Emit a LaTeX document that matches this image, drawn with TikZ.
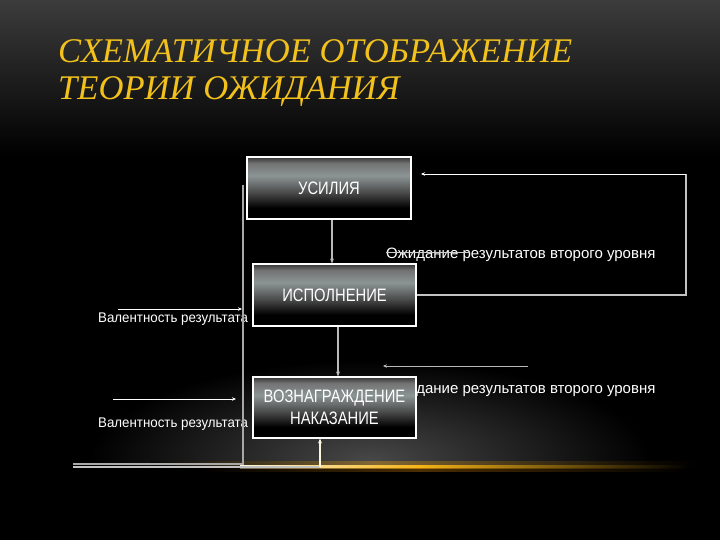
\documentclass[tikz,border=0pt]{standalone}
\usepackage{fontspec}
\setmainfont{Liberation Sans}
\newfontfamily\titlefont[FakeStretch=1.0]{Liberation Serif}
\newfontfamily\boxfont[FakeStretch=0.82]{Liberation Sans}
\newfontfamily\labfont[FakeStretch=0.95]{Liberation Sans}
\usetikzlibrary{arrows.meta}
\definecolor{gold}{HTML}{F2C11C}
\definecolor{bgtop}{HTML}{3C3C3C}
\definecolor{band}{HTML}{8C9494}
\definecolor{lgray}{HTML}{A8A8A8}
\pgfdeclareverticalshading{boxshade}{100bp}{color(0bp)=(black); color(25bp)=(black); color(34bp)=(black); color(46bp)=(black!72); color(60bp)=(band); color(70bp)=(black!55); color(75bp)=(black!80); color(100bp)=(black!80)}
\tikzset{
  blk/.style={draw=white, line width=1.1pt, shading=boxshade, minimum width=163pt, minimum height=62pt, inner sep=0pt, text=white, font=\boxfont\fontsize{18}{22}\selectfont, align=center},
  lab/.style={text=white, font=\labfont\fontsize{14}{16}\selectfont, inner sep=0pt},
  labw/.style={text=white, font=\fontsize{15}{17}\selectfont, inner sep=0pt},
  arr/.style={draw=white, line width=0.8pt, -{Stealth[length=4pt,width=3.5pt]}},
  garr/.style={draw=lgray!80!white, line width=1.1pt, -{Stealth[length=5pt,width=4pt]}},
  gline/.style={draw=lgray, line width=1.6pt},
  ttl/.style={anchor=base west, inner sep=0pt, text=gold, font=\titlefont\itshape\fontsize{34.6}{38}\selectfont}
}
\begin{document}
\begin{tikzpicture}[x=1pt,y=-1pt]
% background
\fill[black] (0,0) rectangle (720,540);
\shade[top color=bgtop, bottom color=black] (0,0) rectangle (720,155);
\begin{scope}
\clip (0,150) rectangle (720,467);
\shade[inner color=black!72, outer color=black] (370,460) ellipse [x radius=280, y radius=100];
\end{scope}
\shade[left color=black, right color=gold!60!orange, opacity=0.35] (150,461) rectangle (380,467);
\shade[left color=gold!60!orange, right color=black, opacity=0.35] (380,461) rectangle (700,467);
\shade[left color=white!85!gold, right color=gold!80!orange] (240,465.8) rectangle (420,468);
\shade[left color=gold!80!orange, right color=black] (420,465.8) rectangle (690,468);
\shade[left color=black, right color=gold!40!orange!50!black, opacity=0.6] (200,468) rectangle (420,471);
\shade[left color=gold!40!orange!50!black, right color=black, opacity=0.6] (420,468) rectangle (690,471);

% title
\node[ttl] (title1) at (58,63) {СХЕМАТИЧНОЕ ОТОБРАЖЕНИЕ};
\node[ttl] (title2) at (58,100) {ТЕОРИИ ОЖИДАНИЯ};

% labels behind boxes
\node[labw, anchor=west] (t1) at (386,255) {Ожидание результатов второго уровня};
\node[labw, anchor=west] (t2) at (386,390) {Ожидание результатов второго уровня};
\node[lab, anchor=west] (val1) at (98,319) {Валентность результата};
\node[lab, anchor=west] (val2) at (98,424) {Валентность результата};

% boxes
\node[blk, minimum width=164pt] (u) at (329,188) {УСИЛИЯ};
\node[blk] (i) at (334.5,295) {ИСПОЛНЕНИЕ};
\node[blk, minimum height=61pt] (v) at (334.5,407.5) {ВОЗНАГРАЖДЕНИЕ\\НАКАЗАНИЕ};

% coordinates
\coordinate (fbc) at (686,174);
\coordinate (fbe) at (421,174);
\coordinate (s2a) at (528,366);
\coordinate (s2b) at (383,366);
\coordinate (v1a) at (118,309);
\coordinate (v1b) at (242,309);
\coordinate (v2a) at (113,399);
\coordinate (v2b) at (236,399);
\coordinate (lt) at (243,185);
\coordinate (lc) at (243,464);
\coordinate (le) at (73,464);
\coordinate (ba) at (73,467);
\coordinate (bb) at (320,467);
\coordinate (st1) at (386,252);
\coordinate (st2) at (470,252);

% connectors
\draw[garr] ([xshift=3pt]u.south) -- ([xshift=3pt]u.south |- i.north);
\draw[garr] ([xshift=3.5pt]i.south) -- ([xshift=3.5pt]i.south |- v.north);
\draw[draw=lgray!70!white, line width=1.1pt] (i.east) -| (fbc);
\draw[arr] (fbc) -- (fbe);
\draw[arr, draw=lgray!80!white] (s2a) -- (s2b);
\draw[arr] (v1a) -- (v1b);
\draw[arr] (v2a) -- (v2b);
\draw[gline] (lt) -- (lc) -- (le);
\draw[draw=lgray!70!white, line width=1.4pt] (ba) -- (bb);
\draw[garr, draw=white!85!gold] (bb) -- (v.south -| bb);
\draw[draw=white!80!black, line width=0.5pt] (st1) -- (st2);
\end{tikzpicture}
\end{document}
